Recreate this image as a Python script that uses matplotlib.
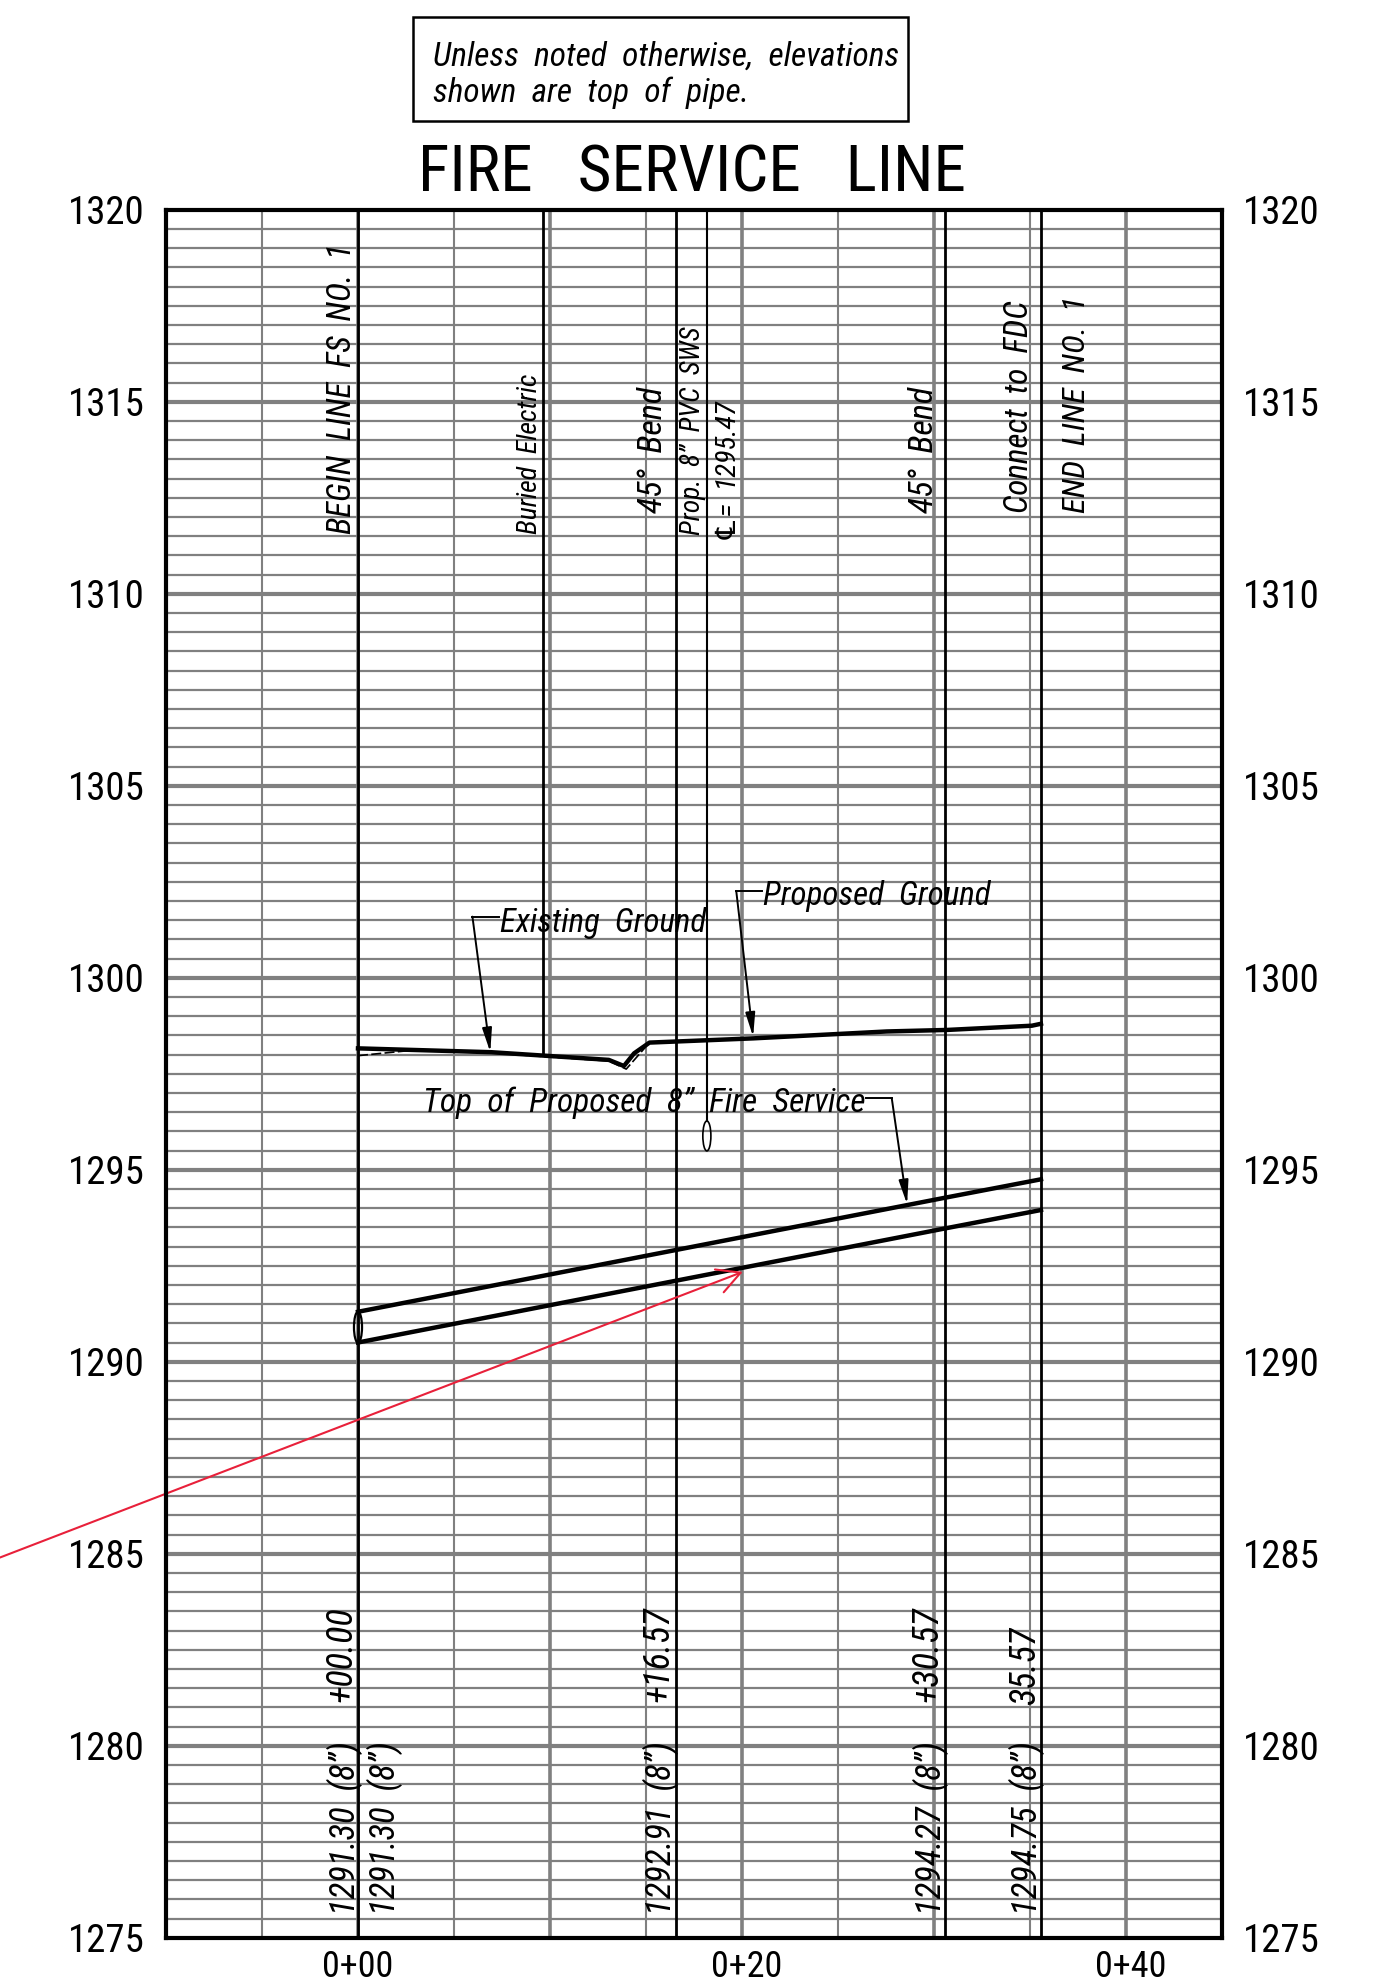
import matplotlib
matplotlib.use('Agg')
import matplotlib.pyplot as plt
from matplotlib.patches import Ellipse, Rectangle
from matplotlib.transforms import ScaledTranslation

plt.rcParams['font.family'] = ['Roboto Condensed', 'DejaVu Sans']

# data
elev_ticks = [1275, 1280, 1285, 1290, 1295, 1300, 1305, 1310, 1315, 1320]
station_ticks = [0, 20, 40]
station_labels = ['0+00', '0+20', '0+40']

# stations of the vertical call-out lines
full_lines = [0, 16.57, 30.57, 35.57]
electric_x = 9.63
electric_bottom = 1298.0
sws_x = 18.17
sws_bottom = 1296.27

ground_x = [0, 6.94, 13.06, 13.85, 14.38, 15.18, 20.58, 27.54, 30.7, 35.1, 35.57]
ground_y = [1298.16, 1298.06, 1297.86, 1297.70, 1298.03, 1298.31, 1298.42, 1298.6, 1298.64, 1298.75, 1298.8]
exist_x = [0, 2.83, 6.94, 13.06, 13.97, 15.18]
exist_y = [1297.97, 1298.11, 1298.04, 1297.83, 1297.62, 1298.31]

pipe_x = [0, 16.57, 30.57, 35.57]
pipe_top = [1291.30, 1292.91, 1294.27, 1294.75]
pipe_bottom = [1290.5, 1292.11, 1293.47, 1293.95]

W, H = 1373, 1986
fig = plt.figure(figsize=(W / 100, H / 100), dpi=100)
ax = fig.add_axes([166 / W, 1 - 1937.7 / H, 1056 / W, 1728 / H])
ax.set_xlim(-10, 45)
ax.set_ylim(1275, 1320)

# grid
grey = '#808080'
for x in range(-5, 45, 5):
    if x % 10 == 0:
        ax.axvline(x, color=grey, lw=2.6, zorder=1)
    else:
        ax.axvline(x, color=grey, lw=1.5, zorder=1)
for i in range(1, 90):
    y = 1275 + i * 0.5
    if i % 10 == 0:
        ax.axhline(y, color=grey, lw=3.0, zorder=1)
    else:
        ax.axhline(y, color=grey, lw=1.6, zorder=1)

# vertical lines
for x in full_lines:
    ax.axvline(x, color='black', lw=2.0, zorder=2)
ax.plot([electric_x, electric_x], [electric_bottom, 1320], color='black', lw=2.0, zorder=2)
ax.plot([sws_x, sws_x], [sws_bottom, 1320], color='black', lw=1.5, zorder=2)
ax.add_patch(Ellipse((sws_x, 1295.88), 0.42, 0.78, fill=False, ec='black', lw=1.2, zorder=3))
ax.add_patch(Ellipse((0, 1290.9), 0.42, 0.8, fill=False, ec='black', lw=1.6, zorder=3))

# ground and pipe
ax.plot(exist_x, exist_y, color='black', lw=1.2, ls=(0, (6, 2)), zorder=3)
ax.plot(ground_x, ground_y, color='black', lw=3.2, zorder=4)
ax.plot(pipe_x, pipe_top, color='black', lw=3.2, zorder=4)
ax.plot(pipe_x, pipe_bottom, color='black', lw=3.2, zorder=4)

# leaders
head = '-|>,head_length=1.44,head_width=0.29'
def leader(xs, ys):
    ax.plot(xs[:-1], ys[:-1], color='black', lw=1.4, zorder=5)
    ax.annotate('', xy=(xs[-1], ys[-1]), xytext=(xs[-2], ys[-2]), zorder=5,
                arrowprops=dict(arrowstyle=head, color='black', lw=1.4, shrinkA=0, shrinkB=0, mutation_scale=10))

leader([7.34, 5.96, 6.89], [1301.59, 1301.59, 1298.06])
leader([21.03, 19.7, 20.58], [1302.26, 1302.26, 1298.46])
leader([26.47, 27.8, 28.6], [1296.86, 1296.86, 1294.1])

ax.text(7.4, 1301.2, 'Existing  Ground', style='italic', fontsize=23.7, va='baseline', zorder=6)
ax.text(21.1, 1301.9, 'Proposed  Ground', style='italic', fontsize=23.8, va='baseline', zorder=6)
ax.text(3.4, 1296.5, 'Top  of  Proposed  8”  Fire  Service', style='italic', fontsize=24, va='baseline', zorder=6)

# red arrow running off the left of the sheet
ax.annotate('', xy=(20.04, 1292.34), xytext=(-18.65, 1284.9), annotation_clip=False, zorder=7,
            arrowprops=dict(arrowstyle='->,head_length=1.65,head_width=0.88', color='#e8203a', lw=1.5,
                            shrinkA=0, shrinkB=0, mutation_scale=10, clip_on=False))

# rotated labels
def vlabel(x, y, s, size):
    ax.text(x, y, s, rotation=90, style='italic', fontsize=size, ha='right', va='bottom', zorder=6)

vlabel(-0.01, 1311.55, 'BEGIN  LINE  FS  NO.  1', 23.5)
vlabel(9.62, 1311.55, 'Buried  Electric', 20)
vlabel(16.18, 1312.1, '45°  Bend', 24.5)
vlabel(18.1, 1311.53, 'Prop.  8”  PVC  SWS', 19.7)
vlabel(20.0, 1311.35, '℄=  1295.47', 20.5)
vlabel(30.3, 1312.1, '45°  Bend', 24.5)
vlabel(35.25, 1312.1, 'Connect  to  FDC', 23.9)
vlabel(38.2, 1312.1, 'END  LINE  NO.  1', 23.3)

vlabel(0.1, 1281.15, '+00.00', 26)
vlabel(16.6, 1281.15, '+16.57', 26)
vlabel(30.6, 1281.15, '+30.57', 26)
vlabel(35.66, 1281.06, '35.57', 26)
vlabel(0.25, 1275.6, '1291.30  (8”)', 25)
vlabel(2.33, 1275.6, '1291.30  (8”)', 25)
vlabel(16.7, 1275.6, '1292.91  (8”)', 25)
vlabel(30.8, 1275.6, '1294.27  (8”)', 25)
vlabel(35.8, 1275.6, '1294.75  (8”)', 25)

# axes
for s in ax.spines.values():
    s.set_linewidth(3.0)
    s.set_zorder(8)
ax.set_yticks(elev_ticks)
ax.set_xticks(station_ticks)
ax.set_xticklabels(station_labels)
ax.tick_params(axis='x', length=0, labelsize=26, pad=8)
ax.tick_params(axis='y', length=0, labelsize=28, pad=15, labelright=True)

# the 0+20 and 0+40 labels sit a little right of their grid lines
for label in ax.get_xticklabels()[1:]:
    label.set_transform(label.get_transform() + ScaledTranslation(3.6 / 72, 0, fig.dpi_scale_trans))

# title and note
fig.text(692 / W, 1 - 192 / H, 'FIRE   SERVICE   LINE', ha='center', va='baseline', fontsize=47)
fig.add_artist(Rectangle((413 / W, 1 - 121 / H), 495 / W, 104 / H, transform=fig.transFigure,
                         fill=False, ec='black', lw=1.8))
fig.text(433 / W, 1 - 66 / H, 'Unless  noted  otherwise,  elevations', style='italic', va='baseline', fontsize=24)
fig.text(433 / W, 1 - 102 / H, 'shown  are  top  of  pipe.', style='italic', va='baseline', fontsize=24)

fig.savefig('out.png', dpi=100)
